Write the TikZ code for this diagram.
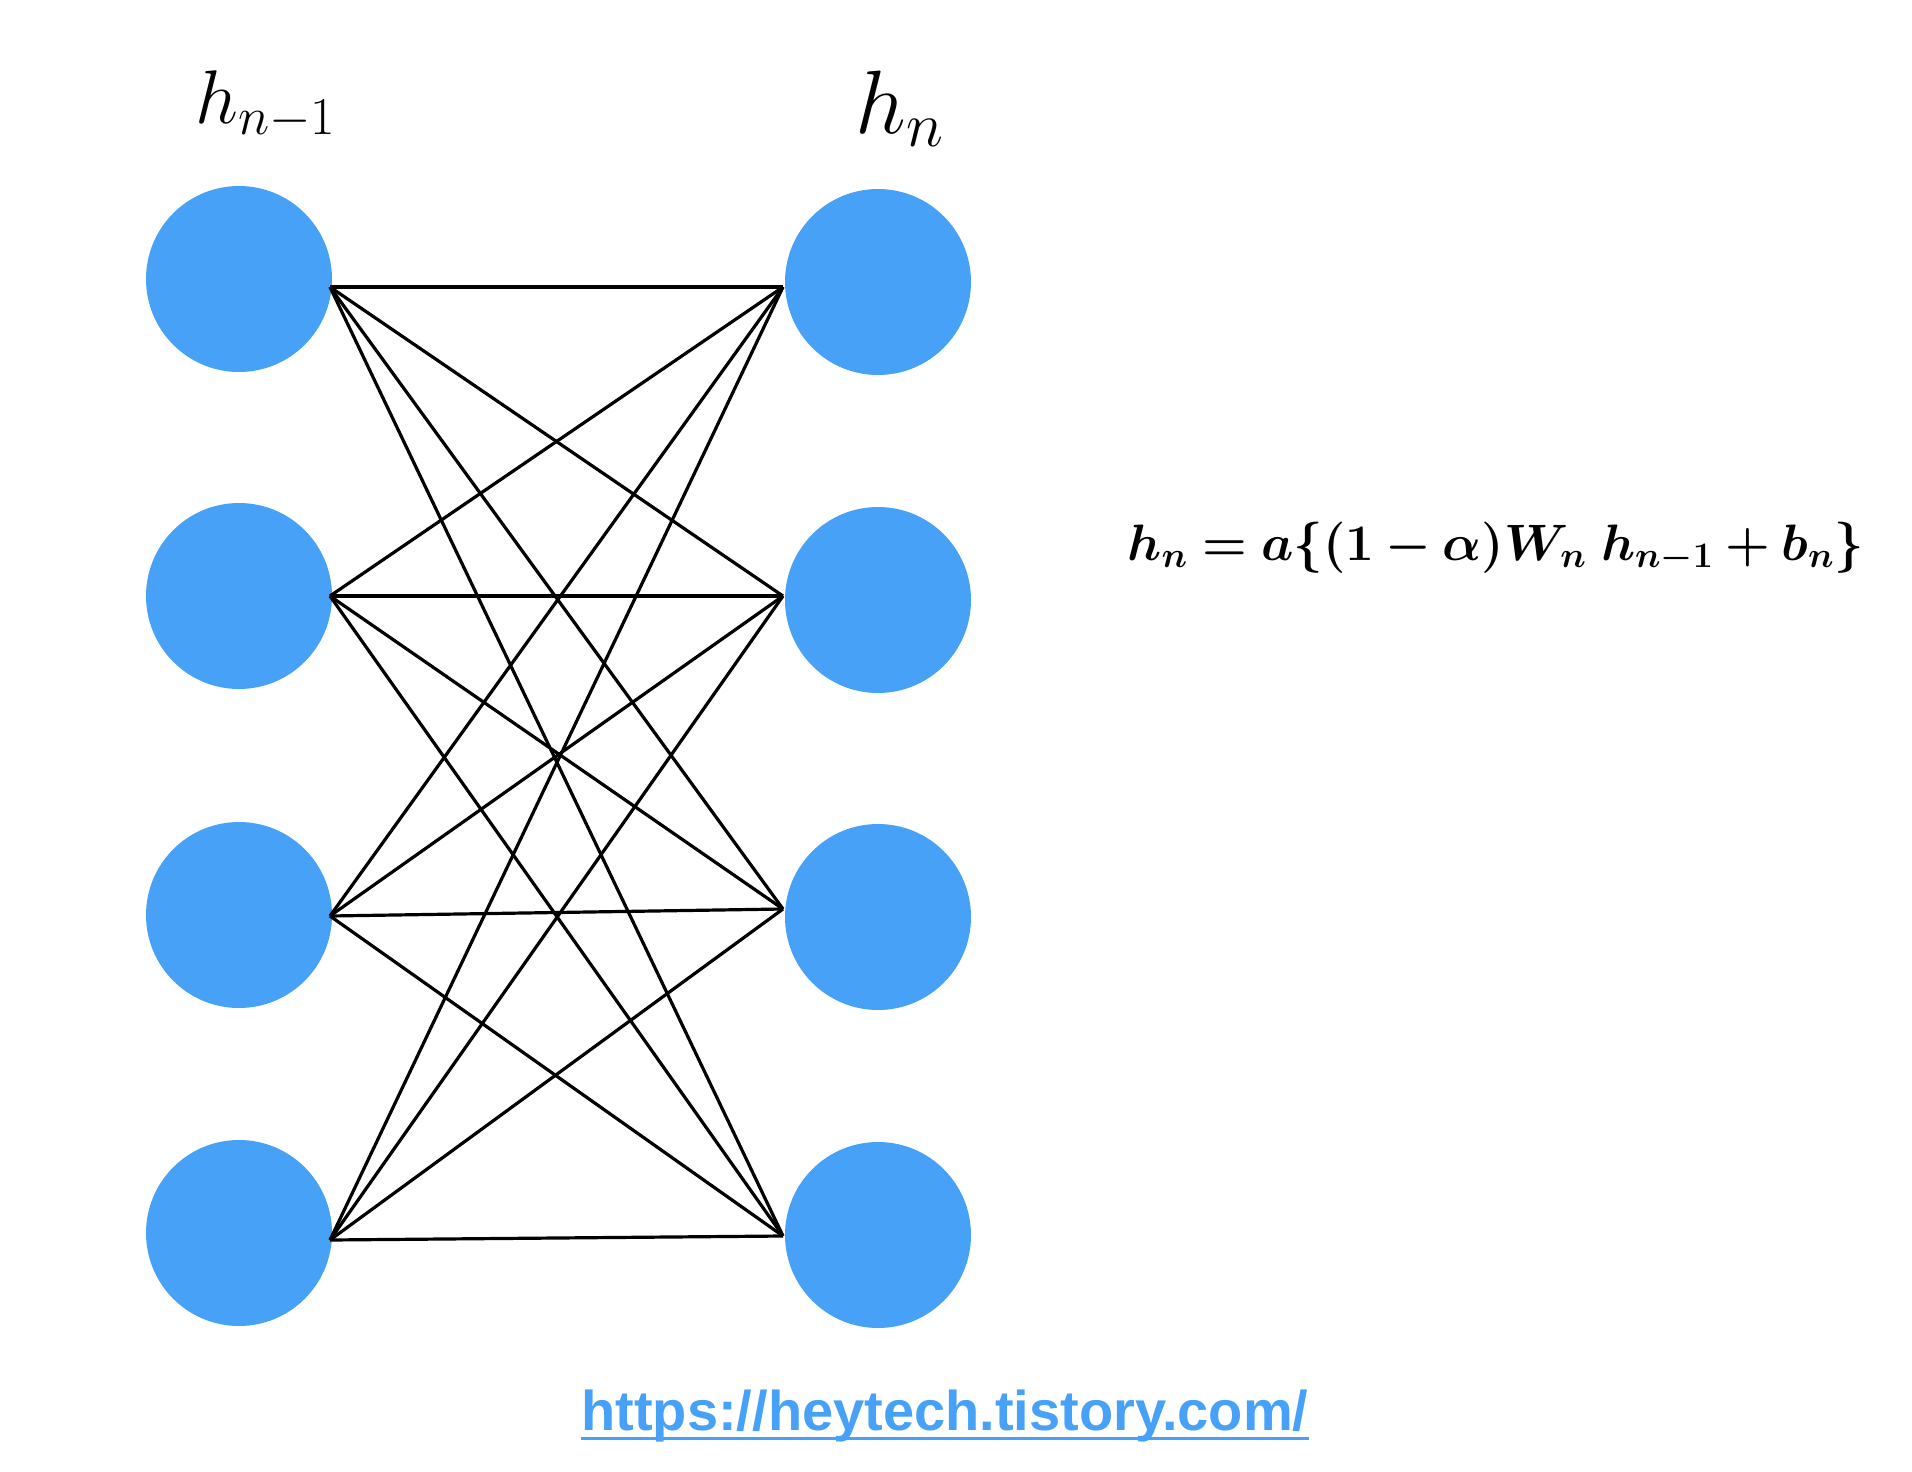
\RequirePackage{fix-cm}
\documentclass[tikz,border=0pt]{standalone}
\usepackage{fontspec}
\usepackage{bm}
\newfontfamily\urlfont{Liberation Sans}
\definecolor{nodeblue}{RGB}{71,161,247}
\begin{document}
\begin{tikzpicture}[x=0.5pt,y=-0.5pt,
  neuron/.style={circle,fill=nodeblue,draw=none,minimum size=93pt,inner sep=0pt},
  link/.style={line width=1.6pt,black},
  lbl/.style={inner sep=0pt,anchor=base west}]
\useasboundingbox (0,0) rectangle (1912,1472);
% neurons
\node[neuron] (l1) at (239,279) {};
\node[neuron] (l2) at (239,596) {};
\node[neuron] (l3) at (239,915) {};
\node[neuron] (l4) at (239,1233) {};
\node[neuron] (r1) at (878,282) {};
\node[neuron] (r2) at (878,600) {};
\node[neuron] (r3) at (878,917) {};
\node[neuron] (r4) at (878,1235) {};
% connection points
\coordinate (a1) at (330,287);
\coordinate (a2) at (330,596);
\coordinate (a3) at (330,916);
\coordinate (a4) at (330,1240);
\coordinate (b1) at (783,287);
\coordinate (b2) at (783,596);
\coordinate (b3) at (783,909);
\coordinate (b4) at (783,1236);
\foreach \i in {1,2,3,4}{
  \foreach \j in {1,2,3,4}{
    \draw[link] (a\i) -- (b\j);
  }
}
% labels
\node[lbl] (lh1) at (195,123) {\fontsize{38}{42}\selectfont $h_{n-1}$};
\node[lbl] (lh2) at (855,133) {\fontsize{45}{50}\selectfont $h_{n}$};
\node[lbl] (eq) at (1127,560) {\fontsize{25.6}{28}\selectfont $\bm{h_n = a\{(1-\alpha)W_n\; h_{n-1}+b_n\}}$};
\node[lbl,text=nodeblue] (url) at (581,1430) {\urlfont\bfseries\fontsize{28}{30}\selectfont https://heytech.tistory.com/};
\draw[nodeblue,line width=1.5pt] ([yshift=-4pt]url.base west) -- ([yshift=-4pt]url.base east);
\end{tikzpicture}
\end{document}
